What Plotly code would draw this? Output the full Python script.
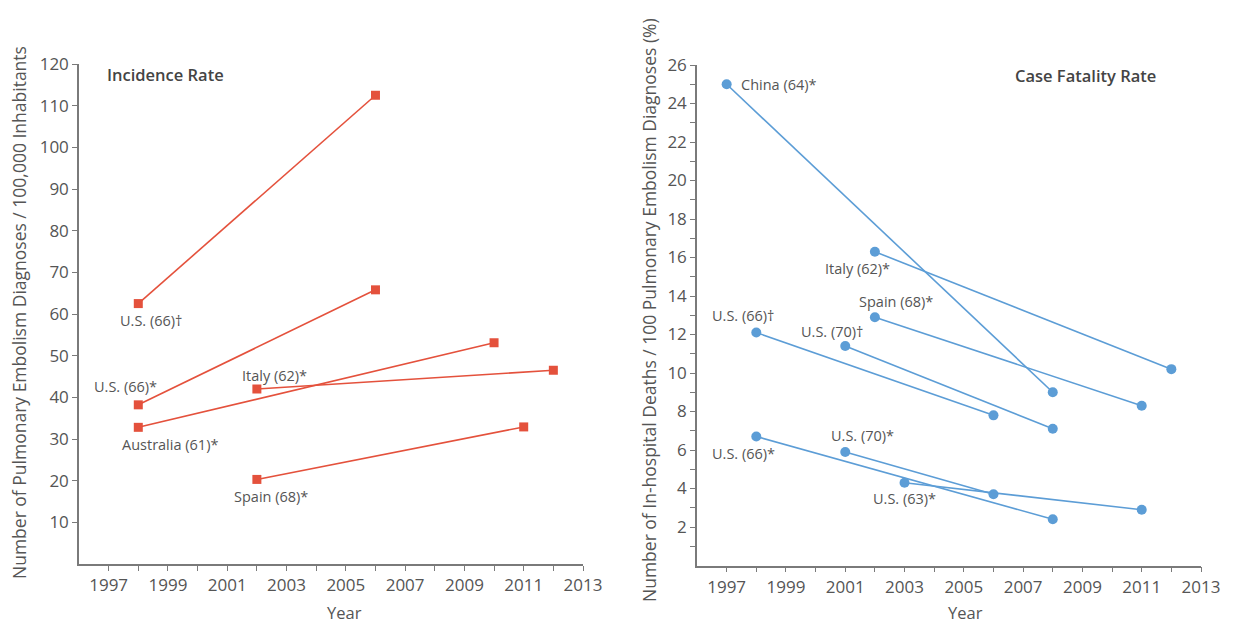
import plotly.graph_objects as go

# ---------------- data ----------------
inc_labels = ["U.S. (66)†", "U.S. (66)*", "Australia (61)*", "Italy (62)*", "Spain (68)*"]
inc_years = [[1998, 2006], [1998, 2006], [1998, 2010], [2002, 2012], [2002, 2011]]
inc_values = [[62.5, 112.5], [38.2, 65.8], [32.8, 53.1], [42.0, 46.5], [20.3, 32.9]]

cfr_labels = ["China (64)*", "Italy (62)*", "Spain (68)*", "U.S. (66)†", "U.S. (70)†",
              "U.S. (70)*", "U.S. (66)*", "U.S. (63)*"]
cfr_years = [[1997, 2008], [2002, 2012], [2002, 2011], [1998, 2006], [2001, 2008],
             [2001, 2006], [1998, 2008], [2003, 2011]]
cfr_values = [[25.0, 9.0], [16.3, 10.2], [12.9, 8.3], [12.1, 7.8], [11.4, 7.1],
              [5.9, 3.7], [6.7, 2.4], [4.3, 2.9]]

year_ticks = list(range(1997, 2014))
year_text = [str(y) if y % 2 == 1 else "" for y in year_ticks]
inc_ticks = list(range(10, 121, 10))
cfr_ticks = list(range(1, 27))
cfr_text = [str(v) if v % 2 == 0 else "" for v in cfr_ticks]

# ---------------- styles ----------------
RED = "#E4513C"
BLUE = "#5C9DD6"
FONT = "Open Sans"
TXT = "#555555"
AX = "#7a7a7a"

W, H = 1237, 623


def px(x):
    return x / W


def py(y):
    return (H - y) / H


# label offsets in pixels (xshift, yshift, xanchor)
inc_off = [(13, -17, "center"), (-13, 18, "center"), (32, -17, "center"),
           (18, 14, "center"), (14, -17, "center")]
cfr_off = [(12, 0, "left"), (-17, -17, "center"), (21, 16, "center"), (-13, 17, "center"),
           (-13, 15, "center"), (17, 16, "center"), (-13, -17, "center"), (0, -16, "center")]

fig = go.Figure()
annotations = []
lab_font = dict(family=FONT, size=14.5, color=TXT)

for lab, xs, ys, (dx, dy, xa) in zip(inc_labels, inc_years, inc_values, inc_off):
    fig.add_trace(go.Scatter(x=xs, y=ys, mode="lines+markers", xaxis="x", yaxis="y",
                             line=dict(color=RED, width=1.6),
                             marker=dict(symbol="square", size=9, color=RED),
                             showlegend=False, hoverinfo="skip"))
    annotations.append(dict(x=xs[0], y=ys[0], xref="x", yref="y", text=lab, showarrow=False,
                            xshift=dx, yshift=dy, xanchor=xa, font=lab_font))

for lab, xs, ys, (dx, dy, xa) in zip(cfr_labels, cfr_years, cfr_values, cfr_off):
    fig.add_trace(go.Scatter(x=xs, y=ys, mode="lines+markers", xaxis="x2", yaxis="y2",
                             line=dict(color=BLUE, width=1.6),
                             marker=dict(symbol="circle", size=10, color=BLUE),
                             showlegend=False, hoverinfo="skip"))
    annotations.append(dict(x=xs[0], y=ys[0], xref="x2", yref="y2", text=lab, showarrow=False,
                            xshift=dx, yshift=dy, xanchor=xa, font=lab_font))

ax_common = dict(showgrid=False, zeroline=False, showline=True, linecolor=AX, linewidth=1.5,
                 ticks="outside", ticklen=5, tickcolor=AX, tickwidth=1.3,
                 tickfont=dict(family=FONT, size=17, color=TXT), automargin=False)

fig.update_layout(
    width=W, height=H,
    margin=dict(l=0, r=0, t=0, b=0),
    plot_bgcolor="white", paper_bgcolor="white",
    xaxis=dict(domain=[px(79), px(583)], range=[1996, 2013], anchor="y",
               tickvals=year_ticks, ticktext=year_text, **ax_common),
    yaxis=dict(domain=[py(564), py(64)], range=[0, 120], anchor="x",
               tickvals=inc_ticks, **ax_common),
    xaxis2=dict(domain=[px(697), px(1201)], range=[1996, 2013], anchor="y2",
                tickvals=year_ticks, ticktext=year_text, **ax_common),
    yaxis2=dict(domain=[py(565.5), py(65)], range=[0, 26], anchor="x2",
                tickvals=cfr_ticks, ticktext=cfr_text, **ax_common),
)

title_font = dict(family=FONT, size=16.5, color="#444", weight=600)
axt_font = dict(family=FONT, size=17.5, color=TXT)
annotations += [
    dict(x=px(105), y=py(74), xref="paper", yref="paper", text="Incidence Rate",
         showarrow=False, xanchor="left", yanchor="middle", font=title_font),
    dict(x=px(1158), y=py(75), xref="paper", yref="paper", text="Case Fatality Rate",
         showarrow=False, xanchor="right", yanchor="middle", font=title_font),
    dict(x=px(345), y=py(612), xref="paper", yref="paper", text="Year",
         showarrow=False, xanchor="center", yanchor="middle",
         font=dict(family=FONT, size=16.5, color=TXT)),
    dict(x=px(965), y=py(612), xref="paper", yref="paper", text="Year",
         showarrow=False, xanchor="center", yanchor="middle",
         font=dict(family=FONT, size=16.5, color=TXT)),
    dict(x=px(19), y=py(313), xref="paper", yref="paper",
         text="Number of Pulmonary Embolism Diagnoses / 100,000 Inhabitants",
         showarrow=False, textangle=-90, xanchor="center", yanchor="middle", font=axt_font),
    dict(x=px(649), y=py(310), xref="paper", yref="paper",
         text="Number of In-hospital Deaths / 100 Pulmonary Embolism Diagnoses (%)",
         showarrow=False, textangle=-90, xanchor="center", yanchor="middle", font=axt_font),
]
fig.update_layout(annotations=annotations)

fig.write_html("out.html", config={"displayModeBar": False},
               post_script="document.body.style.margin='0';document.body.style.overflow='hidden';")
